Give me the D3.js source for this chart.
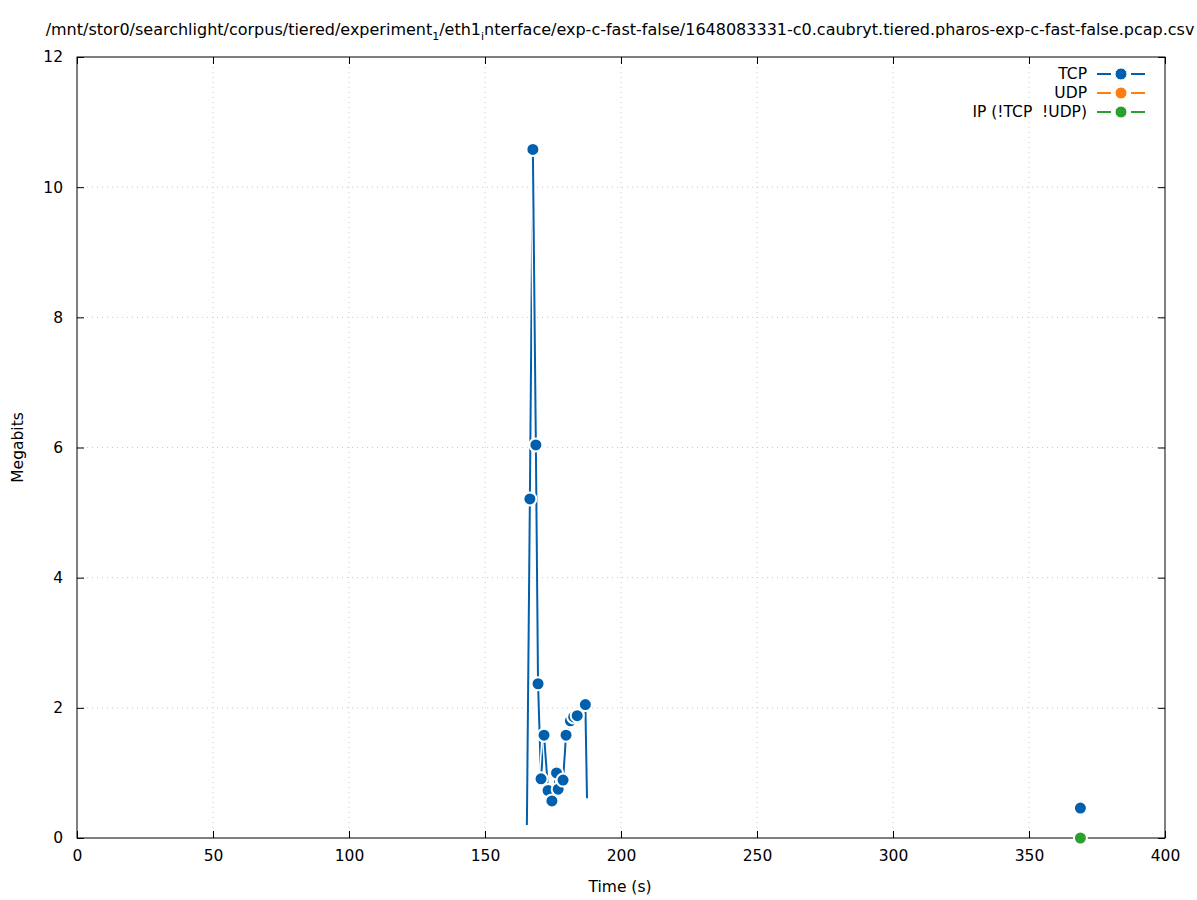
<!DOCTYPE html>
<html>
<head>
<meta charset="utf-8">
<script src="https://cdn.jsdelivr.net/npm/d3@7"></script>
<style>
  html, body { margin: 0; padding: 0; background: #fff; }
  svg { display: block; font-family: "DejaVu Sans", sans-serif; }
  text { white-space: pre; }
</style>
</head>
<body>
<svg id="chart" width="1197" height="900"></svg>
<script>
// ---- data ----
const tcpTime = [165.4, 166.5, 167.6, 168.7, 169.5, 170.6, 171.7, 173.2, 174.6, 176.3, 176.9, 178.7, 179.8, 181.4, 182.6, 183.9, 186.9, 187.5, null, 368.9];
const tcpMbits = [0.20, 5.21, 10.58, 6.04, 2.37, 0.91, 1.58, 0.73, 0.57, 1.00, 0.75, 0.89, 1.58, 1.80, 1.86, 1.88, 2.05, 0.61, null, 0.46];
const udpTime = [];
const udpMbits = [];
const ipTime = [368.9];
const ipMbits = [0.0];
const xTicks = [0, 50, 100, 150, 200, 250, 300, 350, 400];
const yTicks = [0, 2, 4, 6, 8, 10, 12];
const seriesNames = ["TCP", "UDP", "IP (!TCP  !UDP)"];
const seriesColors = ["#0060ad", "#ff7f0e", "#2ca02c"];
const titleParts = [
  {t: "/mnt/stor0/searchlight/corpus/tiered/experiment", sub: false},
  {t: "1", sub: true},
  {t: "/eth1", sub: false},
  {t: "i", sub: true},
  {t: "nterface/exp-c-fast-false/1648083331-c0.caubryt.tiered.pharos-exp-c-fast-false.pcap.csv", sub: false}
];

// ---- layout ----
const svg = d3.select("#chart");
const L = 77, R = 1165, T = 57, B = 838;
const x = d3.scaleLinear().domain([0, 400]).range([L, R]);
const y = d3.scaleLinear().domain([0, 12]).range([B, T]);

// grid
const grid = svg.append("g");
xTicks.slice(1, -1).forEach(v => {
  grid.append("line").attr("x1", x(v)).attr("x2", x(v)).attr("y1", T).attr("y2", B)
    .attr("stroke", "#c8c8c8").attr("stroke-width", 1).attr("stroke-dasharray", "1,4");
});
yTicks.slice(1, -1).forEach(v => {
  grid.append("line").attr("y1", y(v)).attr("y2", y(v)).attr("x1", L).attr("x2", R)
    .attr("stroke", "#c8c8c8").attr("stroke-width", 1).attr("stroke-dasharray", "1,4");
});

// axes
const tickLen = 7;
const fs = "15.5px";
const xAxisB = d3.axisBottom(x).tickValues(xTicks).tickSizeInner(-tickLen).tickSizeOuter(0).tickPadding(12);
const xAxisT = d3.axisTop(x).tickValues(xTicks).tickSizeInner(-tickLen).tickSizeOuter(0).tickFormat("");
const yAxisL = d3.axisLeft(y).tickValues(yTicks).tickSizeInner(-tickLen).tickSizeOuter(0).tickPadding(14);
const yAxisR = d3.axisRight(y).tickValues(yTicks).tickSizeInner(-tickLen).tickSizeOuter(0).tickFormat("");
[[xAxisB, `translate(0,${B})`], [xAxisT, `translate(0,${T})`], [yAxisL, `translate(${L},0)`], [yAxisR, `translate(${R},0)`]].forEach(([ax, tr]) => {
  const g = svg.append("g").attr("transform", tr).call(ax);
  g.select(".domain").remove();
  g.selectAll("line").attr("stroke", "#000");
  g.selectAll("text").attr("font-size", fs).attr("font-family", "DejaVu Sans, sans-serif").attr("fill", "#000");
});
svg.append("rect").attr("x", L).attr("y", T).attr("width", R - L).attr("height", B - T)
  .attr("fill", "none").attr("stroke", "#000").attr("stroke-width", 1);

// labels
svg.append("text").attr("x", (L + R) / 2 - 1).attr("y", 892).attr("text-anchor", "middle")
  .attr("font-size", fs).text("Time (s)");
svg.append("text").attr("transform", `translate(23,${(T + B) / 2}) rotate(-90)`).attr("text-anchor", "middle")
  .attr("font-size", fs).text("Megabits");

const title = svg.append("text").attr("x", 620).attr("y", 35).attr("text-anchor", "middle").attr("font-size", "16px");
titleParts.forEach((p, i) => {
  const ts = title.append("tspan").text(p.t);
  const prevSub = i > 0 && titleParts[i - 1].sub;
  if (p.sub) ts.attr("font-size", "11px").attr("dy", 5);
  else ts.attr("dy", prevSub ? -5 : 0);
});

// ---- series ----
function drawSeries(times, vals, color) {
  const pts = times.map((t, i) => ({t, v: vals[i]}));
  const segs = [];
  let cur = [];
  pts.forEach(p => {
    if (p.t == null || p.v == null) { if (cur.length) segs.push(cur); cur = []; }
    else cur.push(p);
  });
  if (cur.length) segs.push(cur);
  const g = svg.append("g");
  const markers = [];
  segs.forEach(seg => {
    for (let i = 0; i < seg.length - 1; i++) {
      const a = seg[i], b = seg[i + 1];
      g.append("line").attr("x1", x(a.t)).attr("y1", y(a.v)).attr("x2", x(b.t)).attr("y2", y(b.v))
        .attr("stroke", "#fff").attr("stroke-width", 5).attr("stroke-linecap", "butt");
      g.append("line").attr("x1", x(a.t)).attr("y1", y(a.v)).attr("x2", x(b.t)).attr("y2", y(b.v))
        .attr("stroke", color).attr("stroke-width", 2).attr("stroke-linecap", "butt");
    }
    if (seg.length === 1) markers.push(seg[0]);
    else seg.slice(1, -1).forEach(p => markers.push(p));
  });
  g.selectAll("circle").data(markers).join("circle")
    .attr("cx", d => x(d.t)).attr("cy", d => y(d.v)).attr("r", 6.5)
    .attr("fill", color).attr("stroke", "#fff").attr("stroke-width", 2);
}
drawSeries(tcpTime, tcpMbits, seriesColors[0]);
drawSeries(udpTime, udpMbits, seriesColors[1]);
drawSeries(ipTime, ipMbits, seriesColors[2]);

// ---- legend ----
const leg = svg.append("g");
seriesNames.forEach((n, i) => {
  const yy = 74 + i * 19;
  leg.append("text").attr("x", 1087).attr("y", yy + 5).attr("text-anchor", "end").attr("font-size", fs).text(n);
  leg.append("line").attr("x1", 1097).attr("x2", 1111).attr("y1", yy).attr("y2", yy)
    .attr("stroke", seriesColors[i]).attr("stroke-width", 2);
  leg.append("line").attr("x1", 1131).attr("x2", 1145).attr("y1", yy).attr("y2", yy)
    .attr("stroke", seriesColors[i]).attr("stroke-width", 2);
  leg.append("circle").attr("cx", 1121).attr("cy", yy).attr("r", 6)
    .attr("fill", seriesColors[i]).attr("stroke", "#fff").attr("stroke-width", 1);
});
</script>
</body>
</html>
